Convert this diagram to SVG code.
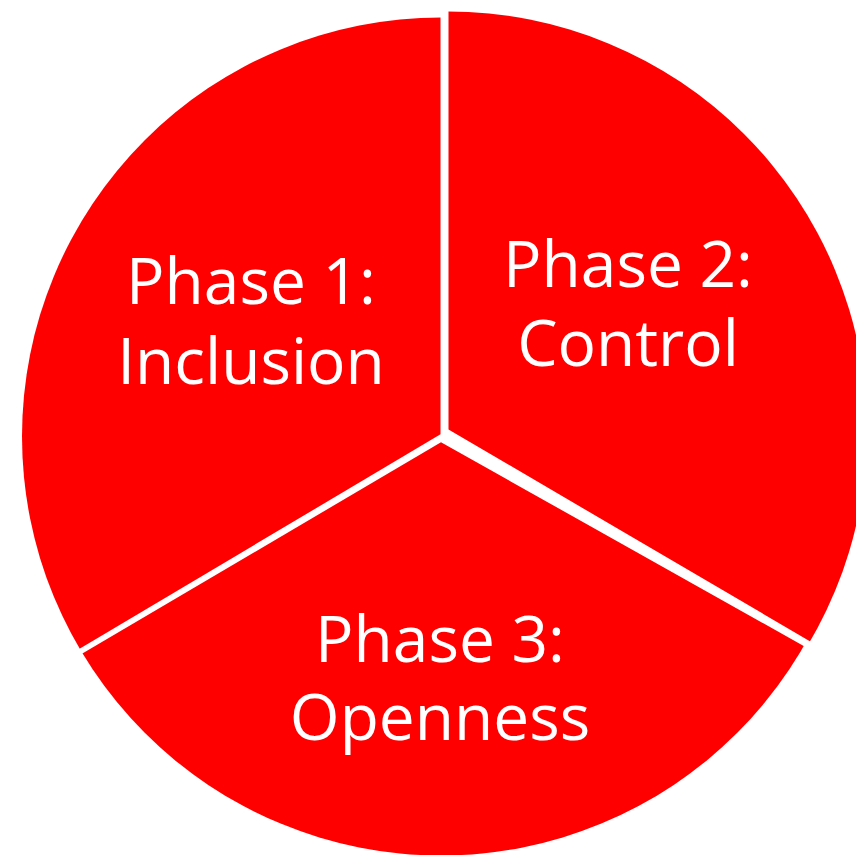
<svg xmlns="http://www.w3.org/2000/svg" width="856" height="855" viewBox="0 0 856 855">
<style>
.slice{fill:#FF0000;}
.lbl{font-family:"Open Sans","Noto Sans","Liberation Sans",sans-serif;font-size:64px;fill:#FFFFFF;text-anchor:middle;}
</style>
<defs>
<clipPath id="c1"><polygon points="0,0 440.5,0 440.5,434.3 0,696"/></clipPath>
<clipPath id="c2"><polygon points="448.5,0 856,0 856,668.2 448.5,429.5"/></clipPath>
<clipPath id="c3"><polygon points="0,702 441,442.3 856,675.4 856,855 0,855"/></clipPath>
</defs>
<rect width="856" height="855" fill="#FFFFFF"/>
<g id="phase1">
<circle class="slice" cx="441" cy="436.5" r="419" clip-path="url(#c1)"/>
<text class="lbl" x="251" y="304">Phase 1:</text>
<text class="lbl" x="251" y="384">Inclusion</text>
</g>
<g id="phase2">
<circle class="slice" cx="448" cy="430.5" r="419" clip-path="url(#c2)"/>
<text class="lbl" x="628" y="287">Phase 2:</text>
<text class="lbl" x="628" y="366">Control</text>
</g>
<g id="phase3">
<circle class="slice" cx="441" cy="436.5" r="419" clip-path="url(#c3)"/>
<text class="lbl" x="440" y="662">Phase 3:</text>
<text class="lbl" x="440" y="740">Openness</text>
</g>
<g id="connectors"></g>
</svg>
